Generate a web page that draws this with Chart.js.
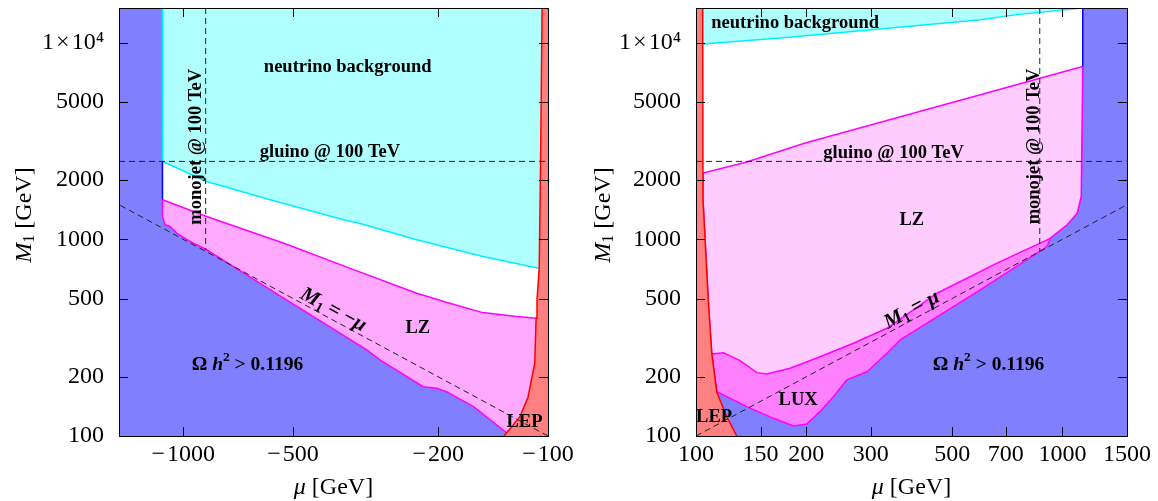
<!DOCTYPE html>
<html>
<head>
<meta charset="utf-8">
<script src="https://cdn.jsdelivr.net/npm/chart.js@4.4.1/dist/chart.umd.min.js"></script>
<style>
  html, body { margin: 0; padding: 0; background: #fff; }
  #wrap { position: relative; width: 1158px; height: 501px; }
  .panel { position: absolute; top: 0; width: 579px; height: 501px; }
</style>
</head>
<body>
<div id="wrap">
  <div class="panel" style="left: 0"><canvas id="left" width="579" height="501"></canvas></div>
  <div class="panel" style="left: 579px"><canvas id="right" width="579" height="501"></canvas></div>
</div>
<script>
const FONT = '"Liberation Serif", "Times New Roman", serif'
const BLUE = '#8080ff'

// axes
const yMajor = [100, 200, 500, 1000, 2000, 5000, 10000]
const yLabels = ['100', '200', '500', '1000', '2000', '5000', '1\u200a×\u200a10⁴']
const yMinor = [150, 300, 700, 1500, 3000, 7000]

const leftXMajor = [1000, 500, 200, 100]
const leftXLabels = ['\u2212\u200a1000', '\u2212\u200a500', '\u2212\u200a200', '\u2212\u200a100']
const leftXMinor = [900, 800, 700, 600, 400, 300]

const rightXMajor = [100, 150, 200, 300, 500, 700, 1000, 1500]
const rightXLabels = ['100', '150', '200', '300', '500', '700', '1000', '1500']
const rightXMinor = [125, 175, 400, 600, 800, 900, 1250]

// left panel, mu < 0 (stored as |mu|)
const leftNuMu = [1140, 1139, 863, 568, 357, 335, 229, 151, 107, 100]
const leftNuM1 = [15000, 2489, 1968, 1576, 1246, 1218, 995, 818, 714, 714]

const leftLZTopMu = [1139, 863, 532, 350, 229, 186, 151, 122, 108, 100]
const leftLZTopM1 = [1589, 1306, 957, 714, 532, 473, 424, 405, 397, 397]

const leftLowMu = [1141, 1140, 1122, 1087, 1042, 959, 863, 793, 532, 314, 289, 220, 202, 190, 160, 129, 100]
const leftLowM1 = [1589, 1306, 1185, 1162, 1076, 975, 885, 802, 504, 274, 244, 178, 175, 168, 141, 103, 100]

const leftLepMu = [132, 119.5, 113.4, 108.7, 107.8, 107.2, 105.7, 104.8, 103.8, 100]
const leftLepM1 = [100, 125, 158, 235, 397, 492, 716, 2489, 15000, 15000]

const leftEdgeMu = [1140, 1140]
const leftEdgeM1 = [2489, 1589]

const leftMonojetMu = [868, 868]
const leftMonojetM1 = [15000, 885]

// right panel, mu > 0
const rightNuMu = [104, 104.7, 169.6, 318, 597, 752, 1136]
const rightNuM1 = [9850, 9850, 10570, 11740, 13090, 13880, 15000]

const rightLZTopMu = [104, 104.7, 137.5, 198.6, 292.8, 435.8, 597, 853, 1136]
const rightLZTopM1 = [2173, 2173, 2472, 3088, 3767, 4624, 5438, 6530, 7570]

const rightLuxTopMu = [104.3, 104.5, 108, 110.4, 118.8, 131.9, 146.5, 156, 180.6, 218, 269, 332, 361, 454.7, 663, 908, 927, 1030, 1097, 1125, 1136]
const rightLuxTopM1 = [15000, 1585, 492, 261, 265, 241.6, 210, 206.8, 221, 253, 296, 353, 392.6, 532, 757, 994, 1014, 1185, 1359, 1652, 7570]

const rightLowMu = [104.3, 104.5, 108, 110.4, 113.9, 137.5, 162.6, 184.5, 200.6, 218, 237, 258, 293, 332, 361, 597, 908, 927, 1030, 1097, 1125, 1136]
const rightLowM1 = [15000, 1585, 492, 264, 168, 141, 123, 112.4, 115, 133, 158.5, 192.8, 212, 263.6, 308, 553, 919, 1014, 1185, 1359, 1652, 7570]

const rightLepMu = [100, 104.3, 104.5, 108, 110.4, 113.9, 121.3, 129.2]
const rightLepM1 = [15000, 15000, 1585, 492, 264, 168, 125.4, 100]

const rightEdgeMu = [1136, 1136]
const rightEdgeM1 = [7570, 15000]

const rightMonojetMu = [867, 867]
const rightMonojetM1 = [15000, 870]

const gluinoM1 = 2490
const diagMu = [100, 1500]

function pts (xs, ys) {
  return xs.map((x, i) => ({ x, y: ys[i] }))
}

function area (xs, ys, bg, line, fill) {
  return { data: pts(xs, ys), backgroundColor: bg, borderColor: line, borderWidth: 1.5, fill, pointRadius: 0, tension: 0 }
}

function stroke (xs, ys, color, dash) {
  return { data: pts(xs, ys), borderColor: color, borderWidth: dash ? 1 : 1.5, borderDash: dash ? [6, 4] : [], fill: false, pointRadius: 0, tension: 0 }
}

const bold = s => `bold ${s}px ${FONT}`
const boldIt = s => `bold italic ${s}px ${FONT}`

function drawRuns (ctx, runs, x, y, angle) {
  ctx.save()
  ctx.translate(x, y)
  ctx.rotate(angle || 0)
  ctx.textBaseline = 'middle'
  ctx.textAlign = 'left'
  ctx.fillStyle = '#000'
  let w = 0
  runs.forEach(r => { ctx.font = r.f; w += ctx.measureText(r.t).width })
  let cx = -w / 2
  runs.forEach(r => {
    ctx.font = r.f
    ctx.fillText(r.t, cx, r.dy || 0)
    cx += ctx.measureText(r.t).width
  })
  ctx.restore()
}

const omegaRuns = [
  { t: 'Ω ', f: bold(19.5) },
  { t: 'h', f: boldIt(19.5) },
  { t: '2', f: bold(13.5), dy: -7 },
  { t: ' > 0.1196', f: bold(19.5) }
]

function plotPlugin (notes, xMajor, yTitleX) {
  return {
    id: 'plotDecor',
    beforeDraw (chart) {
      const { ctx, chartArea: a } = chart
      ctx.save()
      ctx.fillStyle = BLUE
      ctx.fillRect(a.left, a.top, a.right - a.left, a.bottom - a.top)
      ctx.restore()
    },
    afterDatasetsDraw (chart) {
      const { ctx, chartArea: a, scales } = chart
      const sx = scales.x
      const sy = scales.y
      const diag = Math.atan2(sy.getPixelForValue(1500) - sy.getPixelForValue(100), sx.getPixelForValue(1500) - sx.getPixelForValue(100))
      const diagAngle = Math.abs(diag) > Math.PI / 2 ? diag + Math.PI : diag
      notes.forEach(n => {
        const angle = n.rot === 'diag' ? diagAngle : (n.rot || 0)
        drawRuns(ctx, n.runs, sx.getPixelForValue(n.x), sy.getPixelForValue(n.y), angle)
      })

      // frame and inward ticks
      ctx.save()
      ctx.strokeStyle = '#000'
      ctx.lineWidth = 1
      ctx.beginPath()
      sx.ticks.forEach(t => {
        const px = Math.round(sx.getPixelForValue(t.value)) + 0.5
        const len = xMajor.includes(t.value) ? 9 : 5
        ctx.moveTo(px, a.bottom); ctx.lineTo(px, a.bottom - len)
        ctx.moveTo(px, a.top); ctx.lineTo(px, a.top + len)
      })
      sy.ticks.forEach(t => {
        const py = Math.round(sy.getPixelForValue(t.value)) + 0.5
        const len = yMajor.includes(t.value) ? 9 : 5
        ctx.moveTo(a.left, py); ctx.lineTo(a.left + len, py)
        ctx.moveTo(a.right, py); ctx.lineTo(a.right - len, py)
      })
      ctx.stroke()
      ctx.strokeRect(Math.round(a.left) + 0.5, Math.round(a.top) + 0.5, Math.round(a.right - a.left), Math.round(a.bottom - a.top))
      ctx.restore()

      // axis titles
      drawRuns(ctx, [
        { t: 'μ', f: `italic 24px ${FONT}` },
        { t: ' [GeV]', f: `24px ${FONT}` }
      ], (a.left + a.right) / 2, 488, 0)
      drawRuns(ctx, [
        { t: 'M', f: `italic 24px ${FONT}` },
        { t: '1', f: `16px ${FONT}`, dy: 5 },
        { t: ' [GeV]', f: `24px ${FONT}` }
      ], yTitleX, 215, -Math.PI / 2)
    }
  }
}

function makeChart (id, cfg) {
  const datasets = cfg.layers.map((d, i) => Object.assign(d, { order: cfg.layers.length - i }))
  const xTicks = cfg.xMajor.concat(cfg.xMinor).sort((p, q) => p - q)
  const yTicks = yMajor.concat(yMinor).sort((p, q) => p - q)
  const tickFont = { family: FONT, size: 24 }
  return new Chart(document.getElementById(id), {
    type: 'line',
    data: { datasets },
    options: {
      responsive: false,
      animation: false,
      devicePixelRatio: 1,
      layout: { padding: { top: 8, right: 31, bottom: 0, left: 0 } },
      plugins: { legend: { display: false }, tooltip: { enabled: false } },
      scales: {
        x: {
          type: 'logarithmic',
          min: 100,
          max: 1500,
          reverse: cfg.reverse,
          grid: { display: false },
          border: { display: false },
          ticks: {
            autoSkip: false,
            maxRotation: 0,
            padding: -4,
            color: '#000',
            font: tickFont,
            callback: v => {
              const i = cfg.xMajor.indexOf(v)
              return i >= 0 ? cfg.xLabels[i] : null
            }
          },
          afterBuildTicks: s => { s.ticks = xTicks.map(v => ({ value: v })) },
          afterFit: s => { s.height = 65; s.paddingLeft = 0; s.paddingRight = 0 }
        },
        y: {
          type: 'logarithmic',
          min: 100,
          max: 15000,
          grid: { display: false },
          border: { display: false },
          ticks: {
            autoSkip: false,
            padding: 7,
            color: '#000',
            font: tickFont,
            callback: v => {
              const i = yMajor.indexOf(v)
              return i >= 0 ? yLabels[i] : null
            }
          },
          afterBuildTicks: s => { s.ticks = yTicks.map(v => ({ value: v })) },
          afterFit: s => { s.width = cfg.yWidth; s.paddingTop = 0; s.paddingBottom = 0 }
        }
      }
    },
    plugins: [plotPlugin(cfg.notes, cfg.xMajor, 25)]
  })
}

makeChart('left', {
  reverse: true,
  xMajor: leftXMajor,
  xLabels: leftXLabels,
  xMinor: leftXMinor,
  yWidth: 119,
  layers: [
    area(leftLowMu, leftLowM1, '#ffaaff', '#ff00ff', 'end'),
    area(leftLZTopMu, leftLZTopM1, '#ffffff', '#ff00ff', 'end'),
    area(leftNuMu, leftNuM1, '#b0ffff', '#00eeff', 'end'),
    area(leftLepMu, leftLepM1, '#ff8080', '#ff0000', 'start'),
    stroke(leftEdgeMu, leftEdgeM1, '#0000ff'),
    stroke([1500, 100], [gluinoM1, gluinoM1], '#222', true),
    stroke(leftMonojetMu, leftMonojetM1, '#222', true),
    stroke(diagMu, diagMu, '#222', true)
  ],
  notes: [
    { runs: [{ t: 'neutrino background', f: bold(18.5) }], x: 354, y: 7470 },
    { runs: [{ t: 'gluino @ 100 TeV', f: bold(18.5) }], x: 396, y: 2787 },
    { runs: [{ t: 'monojet @ 100 TeV', f: bold(18.5) }], x: 919, y: 2956, rot: -Math.PI / 2 },
    { runs: [{ t: 'LZ', f: bold(18.5) }], x: 227.5, y: 354 },
    { runs: omegaRuns, x: 667, y: 230 },
    { runs: [{ t: 'M', f: boldIt(21) }, { t: '1', f: bold(14), dy: 5 }, { t: ' = −', f: bold(21) }, { t: 'μ', f: boldIt(21) }], x: 388, y: 437, rot: 'diag' },
    { runs: [{ t: 'LEP', f: bold(18.5) }], x: 116, y: 118 }
  ]
})

makeChart('right', {
  reverse: false,
  xMajor: rightXMajor,
  xLabels: rightXLabels,
  xMinor: rightXMinor,
  yWidth: 117,
  layers: [
    area(rightLowMu, rightLowM1, '#ff80ff', '#ff00ff', 'end'),
    area(rightLuxTopMu, rightLuxTopM1, '#ffccff', '#ff00ff', 'end'),
    area(rightLZTopMu, rightLZTopM1, '#ffffff', '#ff00ff', 'end'),
    area(rightNuMu, rightNuM1, '#b0ffff', '#00eeff', 'end'),
    area(rightLepMu, rightLepM1, '#ff8080', '#ff0000', 'start'),
    stroke(rightEdgeMu, rightEdgeM1, '#0000ff'),
    stroke([100, 1500], [gluinoM1, gluinoM1], '#222', true),
    stroke(rightMonojetMu, rightMonojetM1, '#222', true),
    stroke(diagMu, diagMu, '#222', true)
  ],
  notes: [
    { runs: [{ t: 'neutrino background', f: bold(18.5) }], x: 186.5, y: 12590 },
    { runs: [{ t: 'gluino @ 100 TeV', f: bold(18.5) }], x: 346, y: 2746 },
    { runs: [{ t: 'monojet @ 100 TeV', f: bold(18.5) }], x: 835, y: 2965, rot: -Math.PI / 2 },
    { runs: [{ t: 'LZ', f: bold(18.5) }], x: 388, y: 1256 },
    { runs: [{ t: 'LUX', f: bold(18.5) }], x: 190, y: 152 },
    { runs: omegaRuns, x: 628, y: 230 },
    { runs: [{ t: 'M', f: boldIt(21) }, { t: '1', f: bold(14), dy: 5 }, { t: ' = ', f: bold(21) }, { t: 'μ', f: boldIt(21) }], x: 388, y: 437, rot: 'diag' },
    { runs: [{ t: 'LEP', f: bold(18.5) }], x: 112, y: 124.5 }
  ]
})
</script>
</body>
</html>
